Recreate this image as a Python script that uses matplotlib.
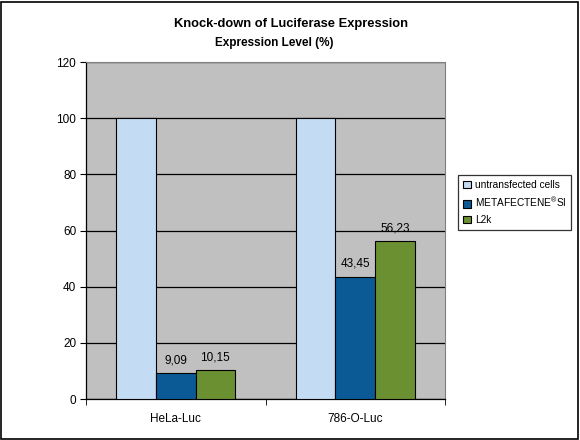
import matplotlib
matplotlib.use("Agg")
import matplotlib.pyplot as plt
import numpy as np
from matplotlib.patches import Rectangle

plt.rcParams['font.family'] = ['Liberation Sans', 'DejaVu Sans']

categories = ["HeLa-Luc", "786-O-Luc"]
series_names = ["untransfected cells", r"METAFECTENE$^{\mathregular{®}}$SI", "L2k"]
untransfected = [100, 100]
metafectene = [9.09, 43.45]
l2k = [10.15, 56.23]
y_ticks = [0, 20, 40, 60, 80, 100, 120]
colors = ["#C3DBF3", "#0B5A96", "#6A9032"]

W, H = 580, 440
fig = plt.figure(figsize=(W / 100, H / 100), dpi=100)
fig.patch.set_facecolor("white")
fig.patches.append(Rectangle((1 / W, 1 / H), 1 - 3 / W, 1 - 3 / H, transform=fig.transFigure,
                             fill=False, edgecolor="black", linewidth=1.2))

ax = fig.add_axes([86 / W, 1 - 399 / H, 359 / W, 337 / H])
ax.set_facecolor("#C0C0C0")

x = np.arange(len(categories))
bw = 0.221
series = [untransfected, metafectene, l2k]
for i, (vals, c, name) in enumerate(zip(series, colors, series_names)):
    bars = ax.bar(x + (i - 1) * bw, vals, bw, color=c, edgecolor="black", linewidth=0.8,
                  label=name, zorder=3)
    if i > 0:
        for b, v in zip(bars, vals):
            ax.text(b.get_x() + b.get_width() / 2, v + 2.5, f"{v:.2f}".replace(".", ","),
                    ha="center", va="bottom", fontsize=8.5, zorder=4)

ax.set_xlim(-0.5, 1.5)
ax.set_ylim(0, 120)
ax.set_yticks(y_ticks)
ax.set_yticklabels([str(t) for t in y_ticks], fontsize=8.5)
ax.yaxis.grid(True, color="black", linewidth=0.9, zorder=1)
ax.set_axisbelow(True)

ax.set_xticks(x)
ax.set_xticklabels(categories, fontsize=8.5)
ax.tick_params(axis="x", length=0, pad=10)
ax.set_xticks([-0.5, 0.5, 1.5], minor=True)
ax.tick_params(axis="x", which="minor", length=4, direction="out", color="black")
ax.tick_params(axis="y", length=4, direction="out", color="black", pad=3)

for s in ["top", "right"]:
    ax.spines[s].set_color("#808080")
    ax.spines[s].set_linewidth(0.8)
for s in ["left", "bottom"]:
    ax.spines[s].set_color("black")
    ax.spines[s].set_linewidth(0.9)

fig.text(291 / W, 1 - 24 / H, "Knock-down of Luciferase Expression", ha="center", va="center",
         fontsize=9.3, fontweight="bold")
fig.text(274.5 / W, 1 - 43 / H, "Expression Level (%)", ha="center", va="center",
         fontsize=8.5, fontweight="bold")

leg = fig.legend(loc="center", bbox_to_anchor=(514.5 / W, 1 - 202.5 / H), fontsize=7.3,
                 frameon=True, fancybox=False, edgecolor="black", handlelength=0.8,
                 handleheight=0.8, handletextpad=0.4, borderpad=0.5, labelspacing=0.55)
leg.get_frame().set_linewidth(0.9)

fig.savefig("out.png", dpi=100)
